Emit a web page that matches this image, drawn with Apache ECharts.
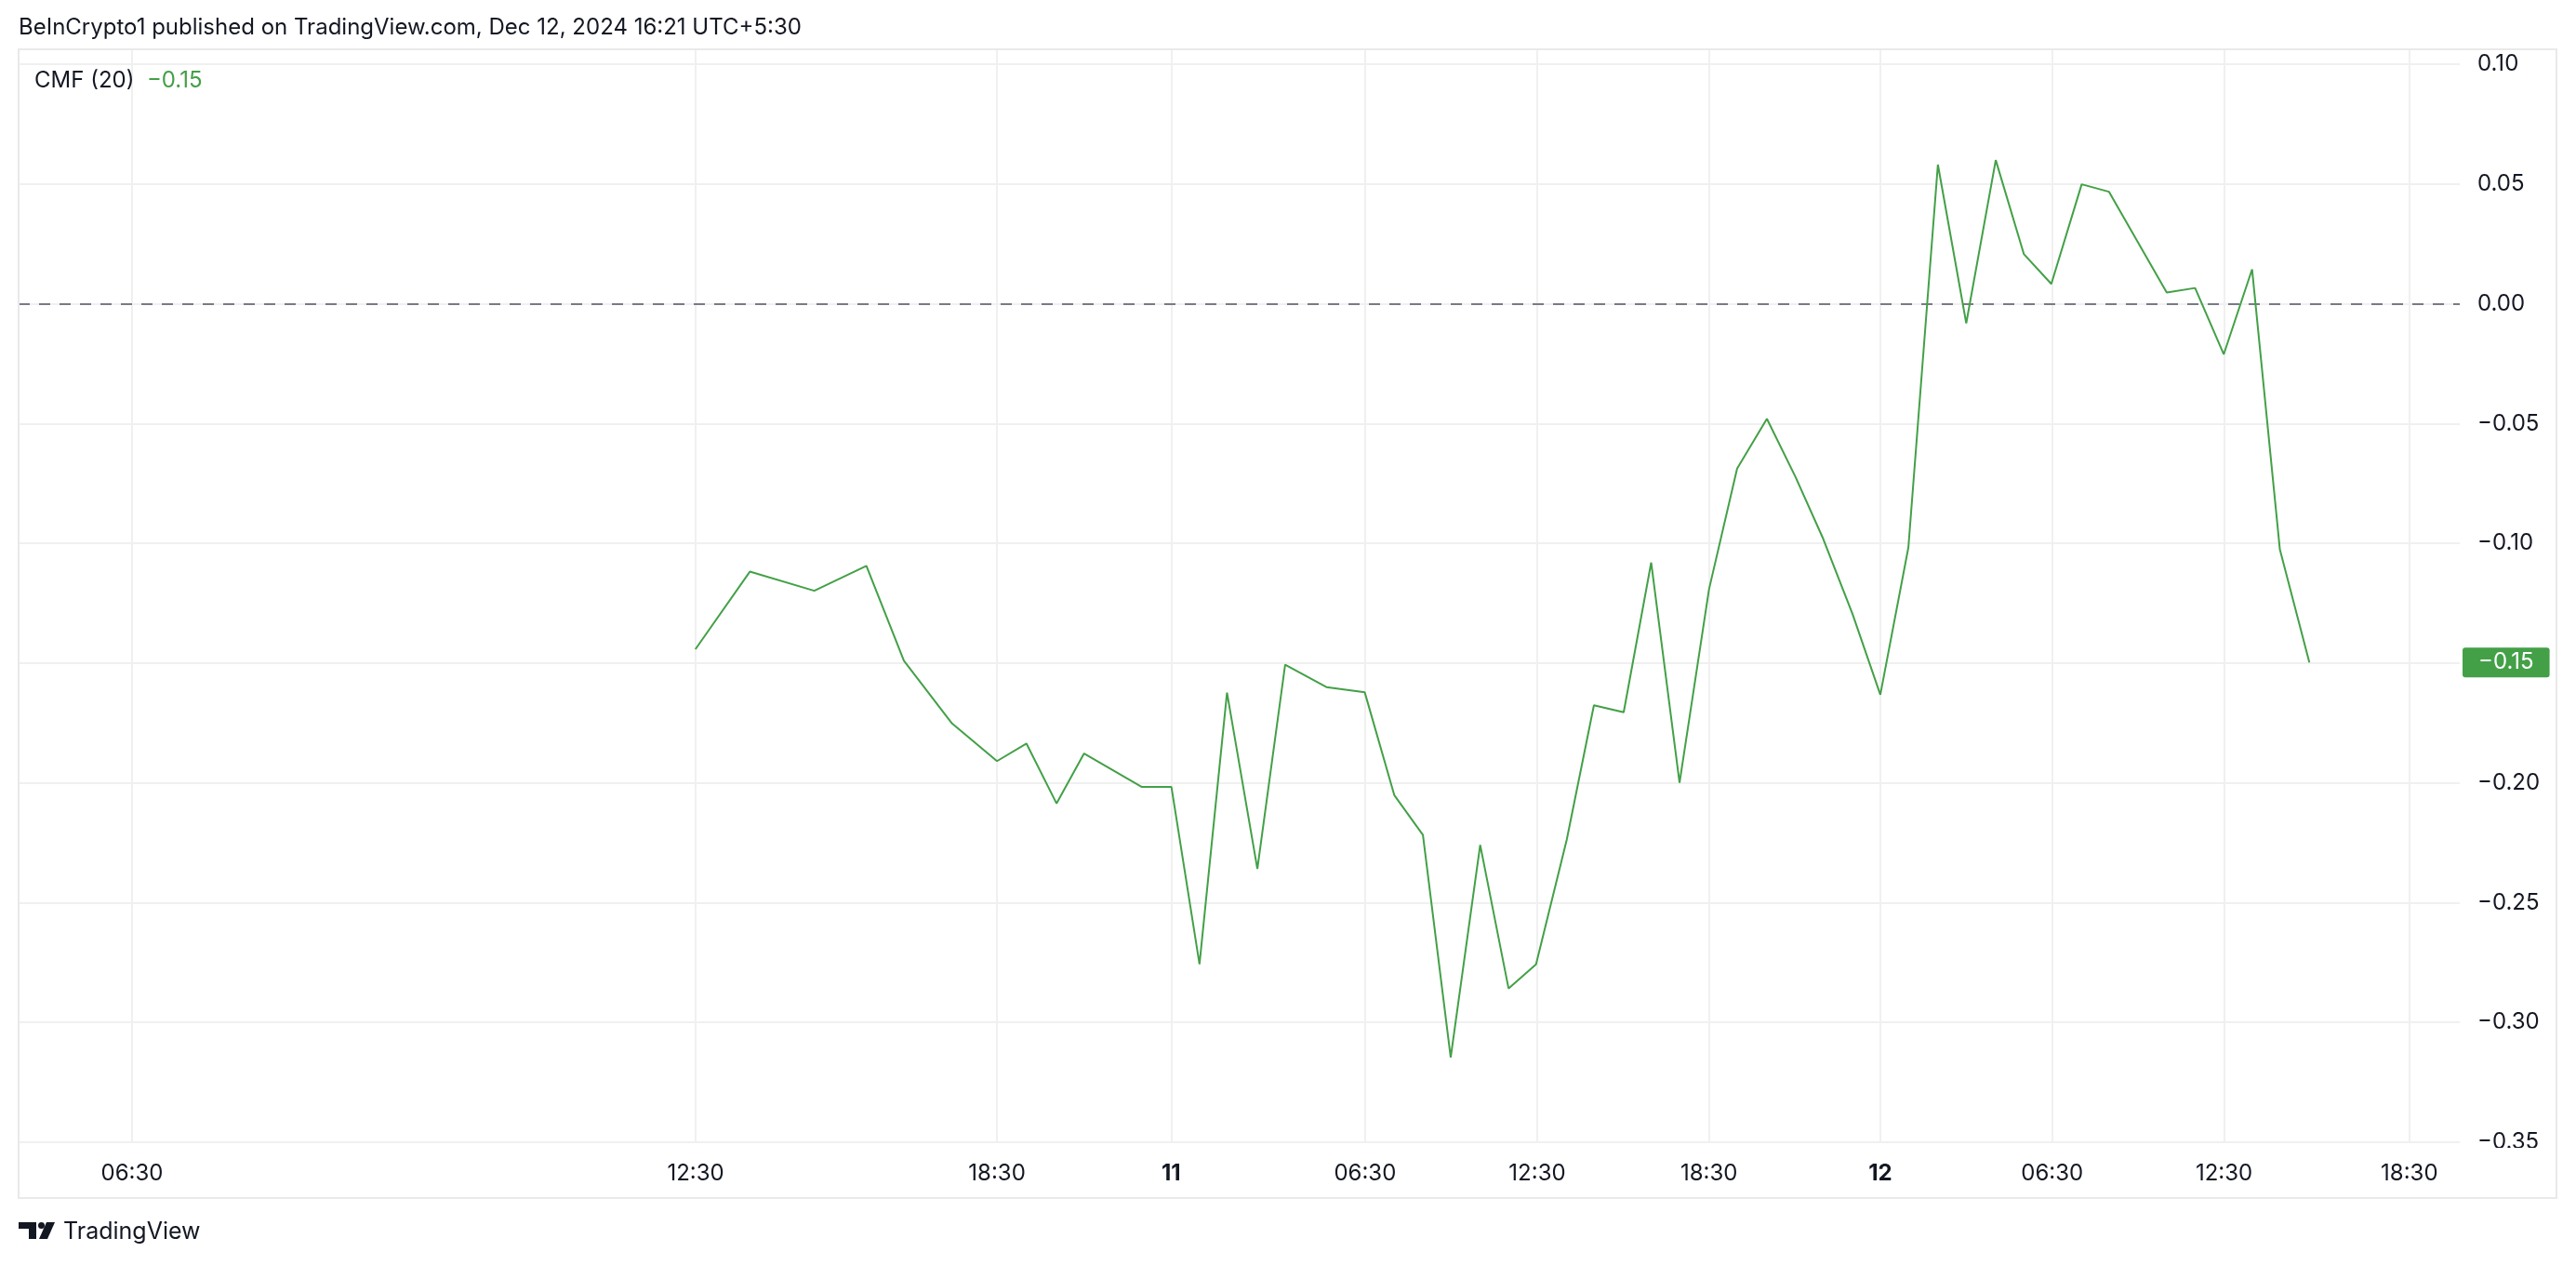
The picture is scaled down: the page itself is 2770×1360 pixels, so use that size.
<!DOCTYPE html>
<html>
<head>
<meta charset="utf-8">
<script src="https://cdn.jsdelivr.net/npm/echarts@6/dist/echarts.min.js"></script>
<style>
html,body{margin:0;padding:0;background:#ffffff;}
#chart{width:2770px;height:1360px;}
</style>
</head>
<body>
<div id="chart"></div>
<script>
// ---- data (bar position on the time scale, CMF(20) value) ----
const barPos = [23.63, 25.53, 27.78, 29.60, 30.91, 32.59, 34.16, 35.19, 36.24, 37.20,
                39.22, 40.25, 41.23, 42.19, 43.25, 44.22, 45.66, 47.00, 48.03, 49.03,
                50.00, 51.03, 52.02, 52.98, 54.05, 55.00, 56.04, 57.00, 57.99, 59.02,
                60.00, 61.04, 62.04, 62.98, 64.03, 65.00, 65.98, 67.01, 68.00, 69.03,
                70.01, 70.97, 72.03, 72.98, 75.00, 75.99, 76.99, 77.98, 78.95, 79.98];
const cmfValues = [-0.1442, -0.1118, -0.1198, -0.1094, -0.1490, -0.1752, -0.1909, -0.1836, -0.2086, -0.1877,
                   -0.2017, -0.2017, -0.2757, -0.1623, -0.2359, -0.1507, -0.1600, -0.1622, -0.2051, -0.2217,
                   -0.3146, -0.2259, -0.2858, -0.2757, -0.2238, -0.1676, -0.1705, -0.1080, -0.2000, -0.1191,
                   -0.0688, -0.0480, -0.0723, -0.0974, -0.1295, -0.1632, -0.1017, 0.0581, -0.0081, 0.0600,
                   0.0208, 0.0083, 0.0499, 0.0468, 0.0047, 0.0066, -0.0211, 0.0144, -0.1026, -0.1497];
const tickPos = [3.96, 23.64, 34.16, 40.24, 47.01, 53.02, 59.02, 65.00, 71.00, 77.00, 83.47];
const tickLabels = ['06:30', '12:30', '18:30', '11', '06:30', '12:30', '18:30', '12', '06:30', '12:30', '18:30'];
const dayLabels = ['11', '12'];
const yTicksMin = -0.35, yTicksStep = 0.05, yTop = 0.10625;
const xMin = 0, xMax = 85.23;
const headerText = 'BeInCrypto1 published on TradingView.com, Dec 12, 2024 16:21 UTC+5:30';
const indicatorName = 'CMF (20)';

const FONT = 'Inter, "Noto Sans", Roboto, sans-serif';
const GREEN = '#43a047';
const TEXT = '#131722';

function fmt(v) {
  if (Math.abs(v) < 1e-9) return '0.00';
  return (v < 0 ? '\u2212' : '') + Math.abs(v).toFixed(2);
}
const lastVal = cmfValues[cmfValues.length - 1];
const seriesData = barPos.map((x, i) => [x, cmfValues[i]]);

const chart = echarts.init(document.getElementById('chart'), null, {renderer: 'canvas'});
chart.setOption({
  animation: false,
  backgroundColor: '#ffffff',
  title: [
    {
      text: headerText, left: 20, top: 18, padding: 0,
      textStyle: {fontFamily: FONT, fontSize: 24, fontWeight: 'normal', color: TEXT, lineHeight: 24}
    },
    {
      text: '{a|' + indicatorName + '}  {b|' + fmt(lastVal) + '}', left: 37, top: 75, padding: 0,
      textStyle: {
        fontFamily: FONT, fontSize: 24, lineHeight: 24, fontWeight: 'normal',
        rich: {
          a: {fontFamily: FONT, fontSize: 24, color: TEXT, lineHeight: 24, fontWeight: 'normal'},
          b: {fontFamily: FONT, fontSize: 24, color: GREEN, lineHeight: 24, fontWeight: 'normal'}
        }
      }
    }
  ],
  grid: {left: 20, right: 125, top: 53, bottom: 132, containLabel: false},
  xAxis: {
    type: 'value', min: xMin, max: xMax,
    axisLine: {show: false},
    axisTick: {show: false, customValues: tickPos},
    splitLine: {show: true, lineStyle: {color: '#f0f0f1', width: 2}},
    axisLabel: {
      customValues: tickPos, margin: 22,
      fontFamily: FONT, fontSize: 24, color: TEXT,
      formatter: function (v) {
        let i = tickPos.indexOf(v);
        if (i < 0) {
          let best = 0;
          tickPos.forEach((p, k) => { if (Math.abs(p - v) < Math.abs(tickPos[best] - v)) best = k; });
          i = best;
        }
        const t = tickLabels[i];
        return dayLabels.indexOf(t) >= 0 ? '{d|' + t + '}' : t;
      },
      rich: {d: {fontFamily: FONT, fontSize: 24, fontWeight: 'bold', color: TEXT}}
    }
  },
  yAxis: {
    type: 'value', position: 'right',
    min: yTicksMin, max: yTop, interval: yTicksStep,
    axisLine: {show: false}, axisTick: {show: false},
    splitLine: {show: true, lineStyle: {color: '#f0f0f1', width: 2}},
    axisLabel: {
      margin: 19, fontFamily: FONT, fontSize: 24, color: TEXT, showMaxLabel: false,
      formatter: function (v) {
        const k = Math.round((v - yTicksMin) / yTicksStep);
        if (Math.abs(yTicksMin + k * yTicksStep - v) > 1e-6) return '';
        return fmt(v);
      }
    },
    axisPointer: {
      show: true, type: 'none', status: 'show', value: lastVal, triggerTooltip: false,
      label: {
        show: true, backgroundColor: GREEN, color: '#ffffff', fontFamily: FONT, fontSize: 24,
        padding: [4, 17, 4, 17], margin: 3, borderRadius: 3,
        formatter: function (p) { return fmt(p.value); }
      }
    }
  },
  series: [{
    type: 'line',
    data: seriesData,
    showSymbol: false,
    symbol: 'none',
    lineStyle: {color: GREEN, width: 2},
    z: 5,
    markLine: {
      silent: true, symbol: 'none', animation: false,
      label: {show: false},
      lineStyle: {color: '#787b86', type: [12, 10], width: 2},
      data: [{yAxis: 0}]
    }
  }],
  graphic: [
    {type: 'rect', z: 100, silent: true,
     shape: {x: 2647, y: 1234, width: 100, height: 52},
     style: {fill: '#ffffff'}},
    {type: 'rect', z: 101, silent: true,
     shape: {x: 20, y: 53, width: 2729, height: 1235},
     style: {fill: 'none', stroke: '#e9e9ea', lineWidth: 2}},
    {type: 'group', left: 20, top: 1314, z: 101, silent: true, children: [
      {type: 'polygon', shape: {points: [[0,0],[19,0],[19,18],[11,18],[11,7],[0,7]]}, style: {fill: TEXT}},
      {type: 'circle', shape: {cx: 24.5, cy: 3.5, r: 3.5}, style: {fill: TEXT}},
      {type: 'polygon', shape: {points: [[30,0],[39,0],[31,18],[22,18]]}, style: {fill: TEXT}}
    ]},
    {type: 'text', left: 68, top: 1312, z: 101, silent: true,
     style: {text: 'TradingView', fontFamily: FONT, fontSize: 25, fill: TEXT}}
  ]
});
</script>
</body>
</html>
